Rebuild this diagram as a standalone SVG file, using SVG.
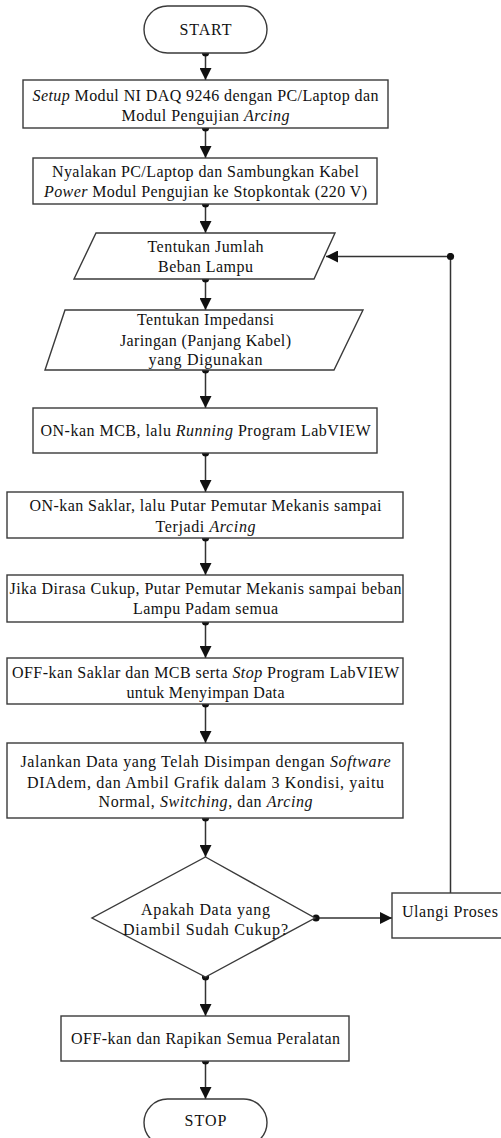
<svg xmlns="http://www.w3.org/2000/svg" width="501" height="1138" viewBox="0 0 501 1138">
<style>
.shape{fill:#fff;stroke:#3a3a3a;stroke-width:1.4}
.conn{fill:none;stroke:#333;stroke-width:1.5;marker-start:url(#dot);marker-end:url(#arrow)}
text{font-family:'Liberation Serif','DejaVu Serif',serif;font-size:16px;fill:#111;text-anchor:middle}
.i{font-style:italic}
</style>
<defs>
<marker id="arrow" markerUnits="userSpaceOnUse" markerWidth="12" markerHeight="12" refX="12" refY="6" orient="auto" viewBox="0 0 12 12">
<path d="M0,0 L12,6 L0,12 z" fill="#111"/>
</marker>
<marker id="dot" markerUnits="userSpaceOnUse" markerWidth="8" markerHeight="8" refX="4" refY="4" viewBox="0 0 8 8">
<circle cx="4" cy="4" r="3.6" fill="#111"/>
</marker>
</defs>
<rect width="501" height="1138" fill="#fff"/>

<g id="connectors">
<path class="conn" d="M205.5,53 V80"/>
<path class="conn" d="M205.5,128 V158"/>
<path class="conn" d="M205.5,204 V233"/>
<path class="conn" d="M205.5,279 V310"/>
<path class="conn" d="M205.5,370 V408"/>
<path class="conn" d="M205.5,453 V492"/>
<path class="conn" d="M205.5,538 V575"/>
<path class="conn" d="M205.5,622 V658"/>
<path class="conn" d="M205.5,704 V743"/>
<path class="conn" d="M205.5,818 V857"/>
<path class="conn" d="M205.5,977 V1016"/>
<path class="conn" d="M205.5,1061 V1099"/>
<path class="conn" d="M316,918 H392"/>
<path fill="none" stroke="#333" stroke-width="1.5" d="M450.5,893 V256.5"/>
<path class="conn" d="M450.5,256.5 H326"/>
</g>

<g id="start">
<rect class="shape" x="144" y="6" width="123" height="47" rx="23.5"/>
<text x="205.5" y="35" textLength="52">START</text>
</g>

<g id="setup">
<rect class="shape" x="23" y="80" width="365" height="48"/>
<text x="205.5" y="101" textLength="346"><tspan class="i">Setup</tspan> Modul NI DAQ 9246 dengan PC/Laptop dan</text>
<text x="205.5" y="121" textLength="168">Modul Pengujian <tspan class="i">Arcing</tspan></text>
</g>

<g id="nyalakan">
<rect class="shape" x="33" y="158" width="344" height="46"/>
<text x="205.5" y="176.5" textLength="307">Nyalakan PC/Laptop dan Sambungkan Kabel</text>
<text x="205.5" y="197" textLength="323"><tspan class="i">Power</tspan> Modul Pengujian ke Stopkontak (220 V)</text>
</g>

<g id="beban">
<polygon class="shape" points="96,233 335,233 314,279 74,279"/>
<text x="205.5" y="251.5" textLength="116">Tentukan Jumlah</text>
<text x="205.5" y="272" textLength="95">Beban Lampu</text>
</g>

<g id="impedansi">
<polygon class="shape" points="65,310 363,310 334,370 45,370"/>
<text x="205.5" y="325" textLength="137">Tentukan Impedansi</text>
<text x="205.5" y="345.5" textLength="171">Jaringan (Panjang Kabel)</text>
<text x="205.5" y="364.5" textLength="114">yang Digunakan</text>
</g>

<g id="mcb">
<rect class="shape" x="33" y="408" width="344" height="45"/>
<text x="205.5" y="436" textLength="330">ON-kan MCB, lalu <tspan class="i">Running</tspan> Program LabVIEW</text>
</g>

<g id="saklar">
<rect class="shape" x="7" y="492" width="396" height="46"/>
<text x="205.5" y="511" textLength="352">ON-kan Saklar, lalu Putar Pemutar Mekanis sampai</text>
<text x="205.5" y="531.5" textLength="100">Terjadi <tspan class="i">Arcing</tspan></text>
</g>

<g id="padam">
<rect class="shape" x="7" y="575" width="396" height="47"/>
<text x="205.5" y="593.5" textLength="392">Jika Dirasa Cukup, Putar Pemutar Mekanis sampai beban</text>
<text x="205.5" y="613.5" textLength="145">Lampu Padam semua</text>
</g>

<g id="stopprogram">
<rect class="shape" x="7" y="658" width="396" height="46"/>
<text x="205.5" y="677.5" textLength="387">OFF-kan Saklar dan MCB serta <tspan class="i">Stop</tspan> Program LabVIEW</text>
<text x="205.5" y="697.5" textLength="158">untuk Menyimpan Data</text>
</g>

<g id="diadem">
<rect class="shape" x="7" y="743" width="396" height="75"/>
<text x="205.5" y="766.5" textLength="370">Jalankan Data yang Telah Disimpan dengan <tspan class="i">Software</tspan></text>
<text x="205.5" y="787.5" textLength="357">DIAdem, dan Ambil Grafik dalam 3 Kondisi, yaitu</text>
<text x="205.5" y="807" textLength="214">Normal, <tspan class="i">Switching</tspan>, dan <tspan class="i">Arcing</tspan></text>
</g>

<g id="decision">
<polygon class="shape" points="205.5,857 315,918 205.5,977 92,918"/>
<text x="205.5" y="914.5" textLength="129">Apakah Data yang</text>
<text x="205.5" y="934.5" textLength="165">Diambil Sudah Cukup?</text>
</g>

<g id="ulangi">
<rect class="shape" x="392" y="893" width="112" height="45"/>
<text x="450" y="917" textLength="96">Ulangi Proses</text>
</g>

<g id="rapikan">
<rect class="shape" x="61" y="1016" width="288" height="45"/>
<text x="205.5" y="1043.5" textLength="269">OFF-kan dan Rapikan Semua Peralatan</text>
</g>

<g id="stop">
<rect class="shape" x="144" y="1099" width="123" height="47" rx="23.5"/>
<text x="205.5" y="1126" textLength="42">STOP</text>
</g>
</svg>
